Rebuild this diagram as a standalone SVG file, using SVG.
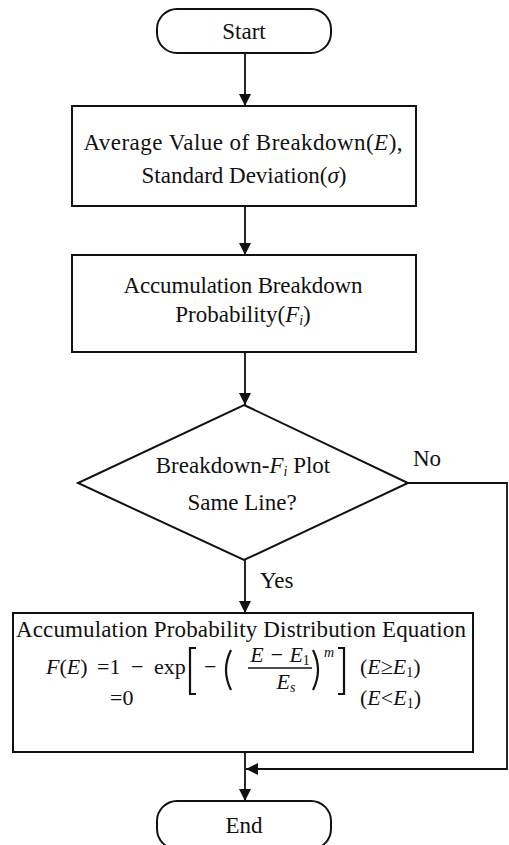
<svg xmlns="http://www.w3.org/2000/svg" width="509" height="845" viewBox="0 0 509 845">
<style>
.shape{fill:#fff;stroke:#111;stroke-width:2}
.conn{fill:none;stroke:#111;stroke-width:1.8}
text{font-family:"Liberation Serif","Times New Roman",serif;font-size:23px;fill:#111}
.c{text-anchor:middle}
.i{font-style:italic}
.sub{font-size:14px}
.f{font-size:22px}
.brk{fill:none;stroke:#111;stroke-width:2.2}
</style>
<defs>
<marker id="arr" markerUnits="userSpaceOnUse" markerWidth="12" markerHeight="14" refX="12" refY="6" orient="auto">
<path d="M0,0 L12,6 L0,12 Z" fill="#111"/>
</marker>
</defs>
<rect width="509" height="845" fill="#fff"/>
<g id="connectors">
<line class="conn" x1="245" y1="53" x2="245" y2="106" marker-end="url(#arr)"/>
<line class="conn" x1="245" y1="206" x2="245" y2="255" marker-end="url(#arr)"/>
<line class="conn" x1="245" y1="352" x2="245" y2="405" marker-end="url(#arr)"/>
<line class="conn" x1="245" y1="560" x2="245" y2="613" marker-end="url(#arr)"/>
<line class="conn" x1="245" y1="752" x2="245" y2="801" marker-end="url(#arr)"/>
<polyline class="conn" points="408,483 507,483 507,769 246,769" marker-end="url(#arr)"/>
<text x="413" y="466">No</text>
<text x="260" y="588">Yes</text>
</g>
<g id="start">
<rect class="shape" x="157" y="9" width="174" height="44" rx="20" ry="20"/>
<text class="c" x="244" y="39">Start</text>
</g>
<g id="average">
<rect class="shape" x="72" y="106" width="344" height="100"/>
<text class="c" x="243" y="150" textLength="319">Average Value of Breakdown(<tspan class="i">E</tspan>),</text>
<text class="c" x="244" y="183">Standard Deviation(<tspan class="i">σ</tspan>)</text>
</g>
<g id="probability">
<rect class="shape" x="72" y="255" width="344" height="97"/>
<text class="c" x="243" y="293" textLength="239">Accumulation Breakdown</text>
<text class="c" x="243" y="322">Probability(<tspan class="i">F<tspan class="sub" dy="3">i</tspan></tspan><tspan dy="-3">)</tspan></text>
</g>
<g id="decision">
<polygon class="shape" points="244,405 408,483 244,560 78,483"/>
<text class="c" x="243" y="473">Breakdown-<tspan class="i">F<tspan class="sub" dy="3">i</tspan></tspan><tspan dy="-3"> Plot</tspan></text>
<text class="c" x="242" y="510">Same Line?</text>
</g>
<g id="equation">
<rect class="shape" x="13" y="613" width="460" height="139"/>
<text x="16" y="637" textLength="450">Accumulation Probability Distribution Equation</text>
<text class="f" x="46" y="674"><tspan class="i">F</tspan>(<tspan class="i">E</tspan>)</text>
<text class="f" x="97" y="674">=1</text>
<text class="f" x="131" y="674">−</text>
<text class="f" x="154" y="674">exp</text>
<path class="brk" d="M196,648 L190,648 L190,694 L196,694"/>
<text class="f" x="204" y="674">−</text>
<path class="brk" d="M231,650 Q221,670 231,690"/>
<text class="c i f" x="280" y="662">E − E<tspan class="sub" dy="3" font-style="normal">1</tspan></text>
<line x1="248" y1="668" x2="312" y2="668" stroke="#111" stroke-width="1.5"/>
<text class="c i f" x="286" y="689">E<tspan class="sub" dy="3">s</tspan></text>
<path class="brk" d="M313,650 Q323,670 313,690"/>
<text class="i sub" x="324" y="657">m</text>
<path class="brk" d="M338,648 L344,648 L344,694 L338,694"/>
<text class="f" x="360" y="674">(<tspan class="i">E</tspan>≥<tspan class="i">E</tspan><tspan class="sub" dy="3">1</tspan><tspan dy="-3">)</tspan></text>
<text class="f" x="110" y="705">=0</text>
<text class="f" x="360" y="705">(<tspan class="i">E</tspan>&lt;<tspan class="i">E</tspan><tspan class="sub" dy="3">1</tspan><tspan dy="-3">)</tspan></text>
</g>
<g id="end">
<rect class="shape" x="157" y="801" width="174" height="48" rx="20" ry="20"/>
<text class="c" x="244" y="833">End</text>
</g>
</svg>
